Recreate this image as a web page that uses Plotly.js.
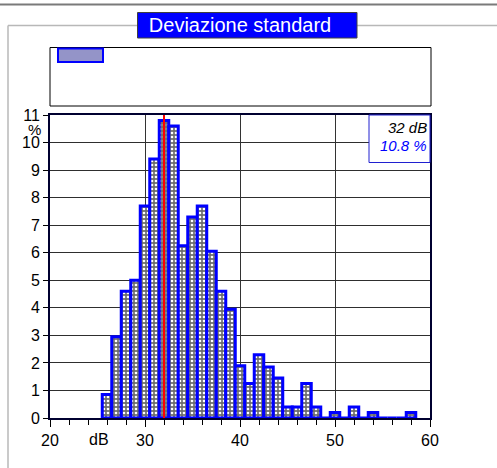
<!DOCTYPE html>
<html>
<head>
<meta charset="utf-8">
<script src="https://cdn.plot.ly/plotly-3.0.1.min.js"></script>
<style>html,body{margin:0;padding:0;background:#fff;}#chart{width:497px;height:468px;}</style>
</head>
<body>
<div id="chart"></div>
<script>
// Data (1 dB bins, % of time)
const dbBins = [26,27,28,29,30,31,32,33,34,35,36,37,38,39,40,41,42,43,44,45,46,47,48,49,50,51,52,53,54,55,56,57,58];
const pct    = [0.85,2.95,4.6,5.0,7.7,9.4,10.8,10.6,6.25,7.3,7.7,6.05,4.6,3.95,1.9,1.25,2.3,1.85,1.45,0.4,0.4,1.25,0.4,0,0.2,0,0.4,0,0.2,0,0,0,0.2];
const chartTitle = 'Deviazione standard';
const xUnit = 'dB';
const yUnit = '%';

// mode of the distribution
let iMax = 0;
pct.forEach((v, i) => { if (v > pct[iMax]) iMax = i; });
const modeDb = dbBins[iMax];
const modePct = pct[iMax];

const FONT = 'Liberation Sans, Arial, sans-serif';

const trace = {
  type: 'bar',
  x: dbBins,
  y: pct,
  width: 1,
  showlegend: false,
  marker: {
    color: '#6e6e6e',
    line: {color: '#0000ff', width: 3},
    pattern: {shape: '.', bgcolor: '#6e6e6e', fgcolor: '#ffffff', size: 4, solidity: 0.35, fillmode: 'replace'}
  },
  hoverinfo: 'x+y'
};

// helpers: pixel -> paper coords (plot area x 50..430, y 115..418)
const px = v => (v - 50) / 380;
const py = v => (418 - v) / 303;

const layout = {
  width: 497, height: 468, autosize: false,
  margin: {l: 50, r: 67, t: 115, b: 50, pad: 0},
  paper_bgcolor: '#ffffff', plot_bgcolor: '#ffffff',
  font: {family: FONT, size: 16, color: '#000'},
  bargap: 0,
  title: {
    text: chartTitle,
    font: {family: FONT, size: 20, color: '#ffffff'},
    xref: 'container', x: 240 / 497, xanchor: 'center',
    yref: 'container', y: 1 - 25 / 468, yanchor: 'middle'
  },
  xaxis: {
    range: [20, 60], tick0: 20, dtick: 10,
    ticks: 'outside', ticklen: 7, tickcolor: '#000', tickwidth: 1,
    showgrid: true, gridcolor: '#333', gridwidth: 1,
    showline: true, linecolor: '#000030', linewidth: 2, mirror: true,
    zeroline: false,
    tickfont: {family: FONT, size: 16, color: '#000'},
    minor: {dtick: 2, ticks: 'outside', ticklen: 5, tickcolor: '#000', showgrid: false},
    fixedrange: true
  },
  yaxis: {
    range: [0, 11], dtick: 1,
    ticks: 'outside', ticklen: 5, tickcolor: '#000',
    showgrid: true, gridcolor: '#2e2e2e', gridwidth: 1,
    showline: true, linecolor: '#000030', linewidth: 2, mirror: true,
    zeroline: false,
    tickfont: {family: FONT, size: 16, color: '#000'},
    fixedrange: true
  },
  shapes: [
    // top dark rule (page header)
    {type: 'line', xref: 'paper', yref: 'paper', x0: px(0), x1: px(497), y0: py(4.5), y1: py(4.5),
     line: {color: '#7a7a7a', width: 2}},
    // grey panel frame
    {type: 'line', xref: 'paper', yref: 'paper', x0: px(8), x1: px(497), y0: py(25.5), y1: py(25.5),
     line: {color: '#b8b8b8', width: 1.5}},
    {type: 'line', xref: 'paper', yref: 'paper', x0: px(8), x1: px(8), y0: py(25.5), y1: py(470),
     line: {color: '#b8b8b8', width: 1.5}},
    // blue title box
    {type: 'rect', xref: 'paper', yref: 'paper', x0: px(137.5), x1: px(357), y0: py(38), y1: py(12.5),
     fillcolor: '#0000ff', line: {color: '#404040', width: 1}},
    // legend box
    {type: 'rect', xref: 'paper', yref: 'paper', x0: px(50), x1: px(431), y0: py(106), y1: py(47.5),
     fillcolor: 'rgba(0,0,0,0)', line: {color: '#000', width: 1}},
    // legend swatch
    {type: 'rect', xref: 'paper', yref: 'paper', x0: px(58), x1: px(103), y0: py(62), y1: py(48.5),
     fillcolor: '#9494c8', line: {color: '#0000ff', width: 2}},
    // info box
    {type: 'rect', xref: 'paper', yref: 'paper', x0: px(369), x1: 1, y0: py(162.5), y1: 1,
     fillcolor: '#ffffff', line: {color: '#2020d0', width: 1}, layer: 'above'},
    // mode marker line
    {type: 'line', xref: 'x', yref: 'paper', x0: modeDb, x1: modeDb, y0: 0, y1: 1,
     line: {color: '#ff0000', width: 2}, layer: 'above'}
  ],
  annotations: [
    {text: yUnit, xref: 'paper', yref: 'paper', x: px(34), y: py(129), xanchor: 'center', yanchor: 'middle',
     showarrow: false, font: {family: FONT, size: 15, color: '#000'}},
    {text: xUnit, xref: 'x', yref: 'paper', x: 25.2, y: py(439), xanchor: 'center', yanchor: 'middle',
     showarrow: false, font: {family: FONT, size: 16, color: '#000'}},
    {text: '<i>' + modeDb + ' dB</i>', xref: 'paper', yref: 'paper', x: px(429), y: py(127), xanchor: 'right', yanchor: 'middle',
     showarrow: false, font: {family: FONT, size: 15, color: '#000'}},
    {text: '<i>' + modePct.toFixed(1) + ' %</i>', xref: 'paper', yref: 'paper', x: px(429), y: py(145), xanchor: 'right', yanchor: 'middle',
     showarrow: false, font: {family: FONT, size: 15, color: '#0000ff'}}
  ]
};

Plotly.newPlot('chart', [trace], layout, {displayModeBar: false, staticPlot: true});
</script>
</body>
</html>
